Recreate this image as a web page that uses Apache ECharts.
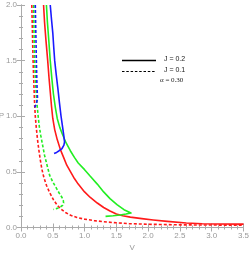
<!DOCTYPE html>
<html><head><meta charset="utf-8">
<script src="https://cdn.jsdelivr.net/npm/echarts@6/dist/echarts.min.js"></script>
<style>html,body{margin:0;padding:0;background:#fff}#c{width:250px;height:254px}</style>
</head><body><div id="c"></div>
<script>
// V, P pairs for each isotherm
const redSolid = [[0.355,2.0],[0.37,1.85],[0.39,1.7],[0.42,1.5],[0.44,1.35],[0.46,1.22],[0.48,1.09],[0.50,0.98],[0.53,0.88],[0.57,0.79],[0.62,0.70],[0.67,0.63],[0.72,0.56],[0.78,0.50],[0.84,0.44],[0.9,0.39],[1.0,0.32],[1.09,0.27],[1.2,0.22],[1.3,0.18],[1.4,0.148],[1.5,0.122],[1.6,0.106],[1.72,0.093],[1.9,0.08],[2.08,0.068],[2.3,0.055],[2.6,0.041],[2.85,0.034],[3.1,0.031],[3.5,0.03]];
const greenSolid = [[0.40,2.0],[0.415,1.85],[0.435,1.7],[0.46,1.5],[0.485,1.34],[0.51,1.2],[0.54,1.08],[0.57,0.98],[0.61,0.9],[0.65,0.84],[0.71,0.76],[0.776,0.69],[0.84,0.63],[0.9,0.58],[1.0,0.52],[1.09,0.46],[1.2,0.39],[1.3,0.32],[1.4,0.26],[1.51,0.205],[1.62,0.16],[1.73,0.13],[1.65,0.121],[1.56,0.113],[1.45,0.106],[1.33,0.10]];
const blueSolid = [[0.46,2.0],[0.48,1.87],[0.50,1.75],[0.515,1.62],[0.53,1.5],[0.555,1.37],[0.58,1.25],[0.605,1.12],[0.63,1.0],[0.65,0.92],[0.67,0.84],[0.685,0.77],[0.675,0.74],[0.645,0.71],[0.6,0.69],[0.56,0.675],[0.52,0.665]];
const redDashed = [[0.17,2.0],[0.18,1.75],[0.19,1.5],[0.205,1.25],[0.215,1.1],[0.225,1.0],[0.24,0.9],[0.26,0.79],[0.28,0.7],[0.30,0.62],[0.33,0.52],[0.36,0.45],[0.40,0.38],[0.45,0.315],[0.51,0.25],[0.57,0.2],[0.63,0.165],[0.7,0.135],[0.78,0.11],[0.88,0.09],[1.0,0.075],[1.15,0.062],[1.3,0.052],[1.5,0.042],[1.7,0.035],[2.0,0.029],[2.5,0.024],[3.0,0.022],[3.5,0.021]];
const greenDashed = [[0.20,2.0],[0.205,1.75],[0.215,1.5],[0.23,1.3],[0.245,1.15],[0.27,1.0],[0.29,0.9],[0.31,0.83],[0.34,0.74],[0.37,0.65],[0.41,0.56],[0.45,0.47],[0.5,0.41],[0.55,0.36],[0.6,0.31],[0.645,0.27],[0.665,0.245],[0.67,0.22],[0.655,0.2],[0.62,0.185],[0.57,0.172],[0.51,0.162]];
const blueDashed = [[0.225,2.0],[0.23,1.85],[0.235,1.7],[0.24,1.55],[0.245,1.42],[0.25,1.3],[0.257,1.2],[0.26,1.16],[0.245,1.12],[0.225,1.09],[0.205,1.07]];
const legendLabels = ['J = 0.2','J = 0.1'];
const alphaLabel = 'α = 0.30';
const xTicks = [0,0.5,1,1.5,2,2.5,3,3.5];
const yTicks = [0,0.5,1,1.5,2];

const gray = '#999';
function axisBase(){
  return {
    axisLine:{show:true,lineStyle:{color:'#aaa',width:1}},
    axisTick:{show:true,inside:true,length:4,lineStyle:{color:'#aaa'}},
    minorTick:{show:true,splitNumber:5,length:2,lineStyle:{color:'#aaa'}},
    splitLine:{show:false},
  };
}
const lbl = {color:gray,fontSize:8,fontFamily:'Liberation Sans',formatter:v=>v.toFixed(1),margin:4};
function line(data,color,dashed){
  return {type:'line',data:data,symbol:'none',smooth:false,xAxisIndex:0,yAxisIndex:0,
    lineStyle:{color:color,width:1.6,type:dashed?[3,2]:'solid',join:'round'},silent:true,animation:false};
}
const chart = echarts.init(document.getElementById('c'),null,{renderer:'canvas'});
chart.setOption({
  animation:false,
  grid:{left:21,right:6.5,top:5,bottom:26.5,containLabel:false,outerBoundsMode:'none'},
  xAxis:[
    Object.assign(axisBase(),{type:'value',min:0,max:3.5,interval:0.5,position:'bottom',
      name:'V',nameLocation:'middle',nameGap:16,nameMoveOverlap:false,nameTextStyle:{color:gray,fontSize:8,fontFamily:'Liberation Sans'},
      axisLabel:lbl}),
    Object.assign(axisBase(),{type:'value',min:0,max:3.5,interval:0.5,position:'top',axisLabel:{show:false}})
  ],
  yAxis:[
    Object.assign(axisBase(),{type:'value',min:0,max:2,interval:0.5,position:'left',
      name:'P',nameLocation:'middle',nameGap:17,nameRotate:0,nameMoveOverlap:false,nameTextStyle:{color:gray,fontSize:8,fontFamily:'Liberation Sans',align:'right',verticalAlign:'middle'},
      axisLabel:lbl}),
    Object.assign(axisBase(),{type:'value',min:0,max:2,interval:0.5,position:'right',axisLabel:{show:false}})
  ],
  series:[
    line(redDashed,'#ff1a1a',true),
    line(greenDashed,'#22ee22',true),
    line(blueDashed,'#1a1aff',true),
    line(redSolid,'#ff1a1a',false),
    line(greenSolid,'#22ee22',false),
    line(blueSolid,'#1a1aff',false)
  ],
  graphic:[
    {type:'line',shape:{x1:122,y1:60.5,x2:156,y2:60.5},style:{stroke:'#000',lineWidth:1.6}},
    {type:'line',shape:{x1:122,y1:71.5,x2:156,y2:71.5},style:{stroke:'#000',lineWidth:1,lineDash:[2.5,1.8]}},
    {type:'text',left:164,top:56,style:{text:legendLabels[0],fontSize:7,fill:'#222',fontFamily:'Liberation Sans'}},
    {type:'text',left:164,top:67,style:{text:legendLabels[1],fontSize:7,fill:'#222',fontFamily:'Liberation Sans'}},
    {type:'text',left:160,top:77,style:{text:alphaLabel,fontSize:7,fill:'#222',fontFamily:'Liberation Serif'}}
  ]
});
</script></body></html>
